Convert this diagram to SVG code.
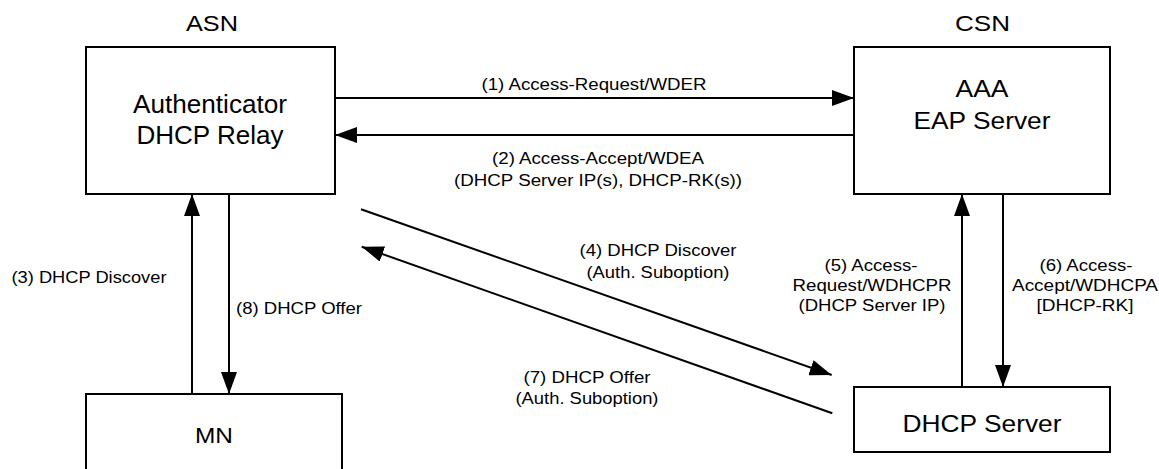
<svg xmlns="http://www.w3.org/2000/svg" width="1159" height="469" viewBox="0 0 1159 469">
<style>
.box{fill:#fff;stroke:#000;stroke-width:2}
.ln{fill:none;stroke:#000;stroke-width:2}
text{font-family:"Liberation Sans",Arial,sans-serif;fill:#000;text-anchor:middle}
.t22{font-size:22px}
.t23{font-size:23px}
.t24{font-size:24px}
.t25{font-size:25px}
.s{font-size:16px}
</style>
<defs>
<marker id="ah" markerUnits="userSpaceOnUse" markerWidth="22" markerHeight="16" refX="22" refY="8" orient="auto" viewBox="0 0 22 16">
<path d="M0,0 L22,8 L0,16 z" fill="#000"/>
</marker>
</defs>
<rect width="1159" height="469" fill="#fff"/>
<text class="t22" x="212" y="31" textLength="52" lengthAdjust="spacingAndGlyphs">ASN</text>
<text class="t22" x="982.5" y="31" textLength="55" lengthAdjust="spacingAndGlyphs">CSN</text>
<g id="asn">
<rect class="box" x="86" y="47" width="249" height="147"/>
<text class="t25" x="210" y="113" textLength="154" lengthAdjust="spacingAndGlyphs">Authenticator</text>
<text class="t25" x="210" y="144" textLength="147" lengthAdjust="spacingAndGlyphs">DHCP Relay</text>
</g>
<g id="aaa">
<rect class="box" x="854" y="47" width="256" height="147"/>
<text class="t23" x="982" y="97" textLength="53" lengthAdjust="spacingAndGlyphs">AAA</text>
<text class="t23" x="982" y="129" textLength="137" lengthAdjust="spacingAndGlyphs">EAP Server</text>
</g>
<g id="mn">
<rect class="box" x="86" y="394" width="256" height="90"/>
<text class="t22" x="214" y="443" textLength="38" lengthAdjust="spacingAndGlyphs">MN</text>
</g>
<g id="dhcp">
<rect class="box" x="854" y="387" width="256" height="65"/>
<text class="t24" x="982" y="432" textLength="159" lengthAdjust="spacingAndGlyphs">DHCP Server</text>
</g>
<g id="connectors">
<line class="ln" x1="335" y1="98" x2="854" y2="98" marker-end="url(#ah)"/>
<line class="ln" x1="854" y1="135" x2="335" y2="135" marker-end="url(#ah)"/>
<line class="ln" x1="192" y1="394" x2="192" y2="194" marker-end="url(#ah)"/>
<line class="ln" x1="229" y1="194" x2="229" y2="394" marker-end="url(#ah)"/>
<line class="ln" x1="361" y1="209.3" x2="831.7" y2="375" marker-end="url(#ah)"/>
<line class="ln" x1="832.3" y1="413.3" x2="361.7" y2="246.7" marker-end="url(#ah)"/>
<line class="ln" x1="962" y1="387" x2="962" y2="194" marker-end="url(#ah)"/>
<line class="ln" x1="1003" y1="194" x2="1003" y2="387" marker-end="url(#ah)"/>
<text class="s" x="594" y="90" textLength="225" lengthAdjust="spacingAndGlyphs">(1) Access-Request/WDER</text>
<text class="s" x="598" y="164" textLength="212" lengthAdjust="spacingAndGlyphs">(2) Access-Accept/WDEA</text>
<text class="s" x="598" y="186" textLength="288" lengthAdjust="spacingAndGlyphs">(DHCP Server IP(s), DHCP-RK(s))</text>
<text class="s" x="89" y="283" textLength="155" lengthAdjust="spacingAndGlyphs">(3) DHCP Discover</text>
<text class="s" x="299" y="314" textLength="126" lengthAdjust="spacingAndGlyphs">(8) DHCP Offer</text>
<text class="s" x="658" y="256" textLength="157" lengthAdjust="spacingAndGlyphs">(4) DHCP Discover</text>
<text class="s" x="658" y="278" textLength="143" lengthAdjust="spacingAndGlyphs">(Auth. Suboption)</text>
<text class="s" x="587" y="383" textLength="127" lengthAdjust="spacingAndGlyphs">(7) DHCP Offer</text>
<text class="s" x="587" y="404" textLength="143" lengthAdjust="spacingAndGlyphs">(Auth. Suboption)</text>
<text class="s" x="871" y="271" textLength="93" lengthAdjust="spacingAndGlyphs">(5) Access-</text>
<text class="s" x="872" y="291" textLength="159" lengthAdjust="spacingAndGlyphs">Request/WDHCPR</text>
<text class="s" x="872" y="311" textLength="147" lengthAdjust="spacingAndGlyphs">(DHCP Server IP)</text>
<text class="s" x="1086" y="271" textLength="93" lengthAdjust="spacingAndGlyphs">(6) Access-</text>
<text class="s" x="1085" y="291" textLength="146" lengthAdjust="spacingAndGlyphs">Accept/WDHCPA</text>
<text class="s" x="1085" y="311" textLength="97" lengthAdjust="spacingAndGlyphs">[DHCP-RK]</text>
</g>
</svg>
